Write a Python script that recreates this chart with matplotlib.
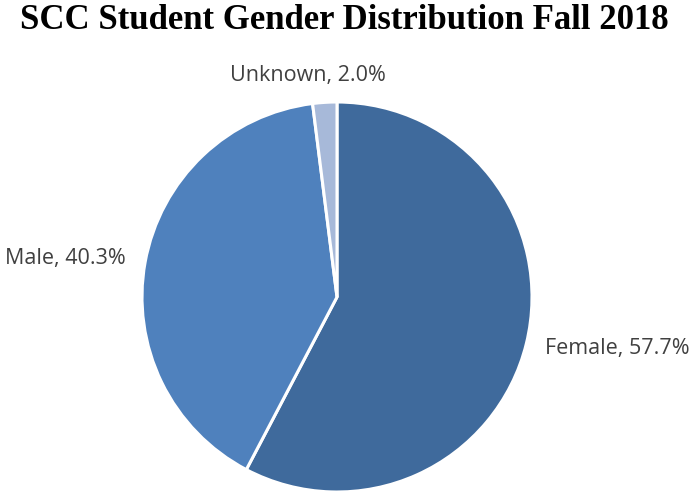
import numpy as np
import matplotlib.pyplot as plt

labels = ['Female', 'Male', 'Unknown']
shares = [57.7, 40.3, 2.0]
colors = ['#3F6A9C', '#4F81BD', '#A7B9D9']

fig = plt.figure(figsize=(6.89, 4.91), dpi=100)
# pie centre at (337, 297) px, radius 195 px
r = 195
ax = fig.add_axes([(337 - r) / 689, (491 - 297 - r) / 491, 2 * r / 689, 2 * r / 491])

wedges, _ = ax.pie(shares, colors=colors, startangle=90, counterclock=False,
                   radius=1, wedgeprops=dict(edgecolor='white', linewidth=2.2))
ax.set_xlim(-1, 1)
ax.set_ylim(-1, 1)
ax.axis('off')

# label placement: distance, alignment, x nudge
place = {'Female': (1.10, 'left', 0.0), 'Male': (1.10, 'right', 0.0), 'Unknown': (1.14, 'center', -0.08)}
for w, lab, s in zip(wedges, labels, shares):
    ang = np.deg2rad((w.theta1 + w.theta2) / 2)
    d, ha, dx = place[lab]
    ax.text(d * np.cos(ang) + dx, d * np.sin(ang), f'{lab}, {s:.1f}%',
            ha=ha, va='center', fontsize=15.5, color='#404040',
            family='Open Sans', clip_on=False)

fig.text(0.5, 0.958, 'SCC Student Gender Distribution Fall 2018', ha='center', va='center',
         fontsize=25, fontweight='bold', family='Liberation Serif')

fig.savefig('out.png', dpi=100)
